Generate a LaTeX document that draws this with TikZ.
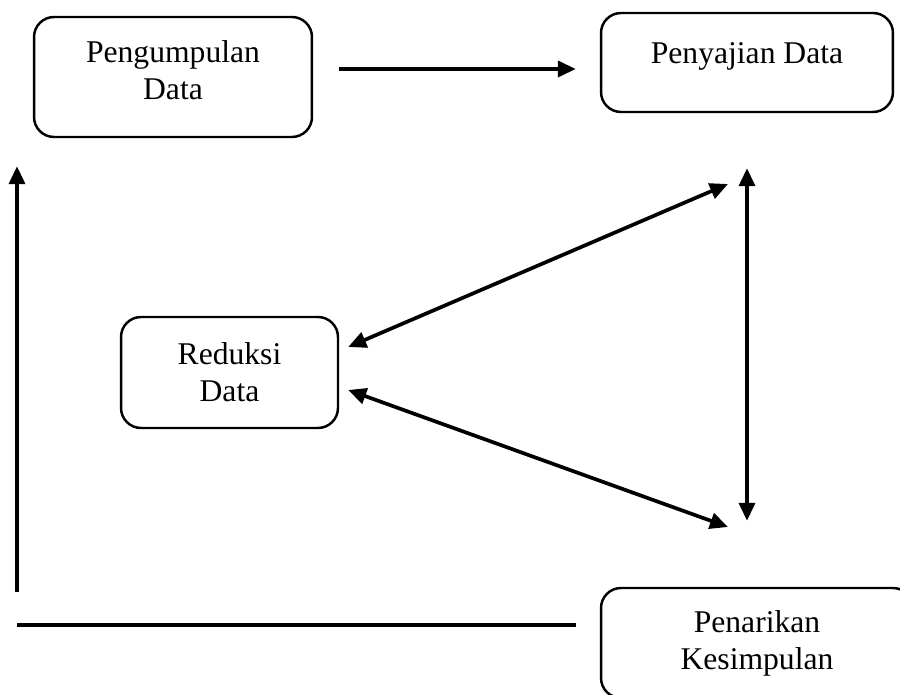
\documentclass[tikz,border=0pt]{standalone}
\usepackage{fontspec}
\setmainfont{Liberation Serif}
\usetikzlibrary{arrows.meta}

\begin{document}
\begin{tikzpicture}[x=0.02cm,y=-0.02cm,
  kotak/.style={draw=black,line width=1.4pt,rounded corners=0.4cm,align=center,font=\fontsize{18}{21}\selectfont},
  panah/.style={line width=2.1pt,-{Triangle[length=0.36cm,width=0.32cm]}},
  duapanah/.style={line width=2.1pt,{Triangle[length=0.36cm,width=0.32cm]}-{Triangle[length=0.36cm,width=0.32cm]}}]
\useasboundingbox (0,0) rectangle (900,695);
\clip (0,0) rectangle (900,695);

%kotak
\node[kotak,minimum width=5.56cm,minimum height=2.4cm,text depth=8pt] (kumpul) at (173,77) {Pengumpulan\\Data};
\node[kotak,minimum width=5.84cm,minimum height=1.98cm,text depth=10.5pt] (saji) at (747,62.5) {Penyajian Data};
\node[kotak,minimum width=4.34cm,minimum height=2.22cm] (reduksi) at (229.5,372.5) {Reduksi\\Data};
\node[kotak,minimum width=6.24cm,minimum height=2.2cm] (tarik) at (757,643) {Penarikan\\Kesimpulan};

\coordinate (kiri) at (17,592);
\coordinate (kiribawah) at (17,625);
\coordinate (atas) at (728,184);
\coordinate (bawah) at (728,527);

%panah
\draw[panah,shorten <=0.52cm,shorten >=0.48cm] ([yshift=0.16cm]kumpul.east) -- ([yshift=-0.13cm]saji.west);
\draw[panah,shorten >=0.56cm] (kiri) -- (kiri |- kumpul.south);
\draw[line width=2.1pt,shorten <=0.48cm] (tarik.west |- kiribawah) -- (kiribawah);
\draw[duapanah,shorten <=1.1cm,shorten >=1.32cm] (saji.south) -- (saji.south |- tarik.north);
\draw[duapanah] ([xshift=0.18cm,yshift=0.51cm]reduksi.east) -- (atas);
\draw[duapanah] ([xshift=0.18cm,yshift=-0.35cm]reduksi.east) -- (bawah);
\end{tikzpicture}
\end{document}
